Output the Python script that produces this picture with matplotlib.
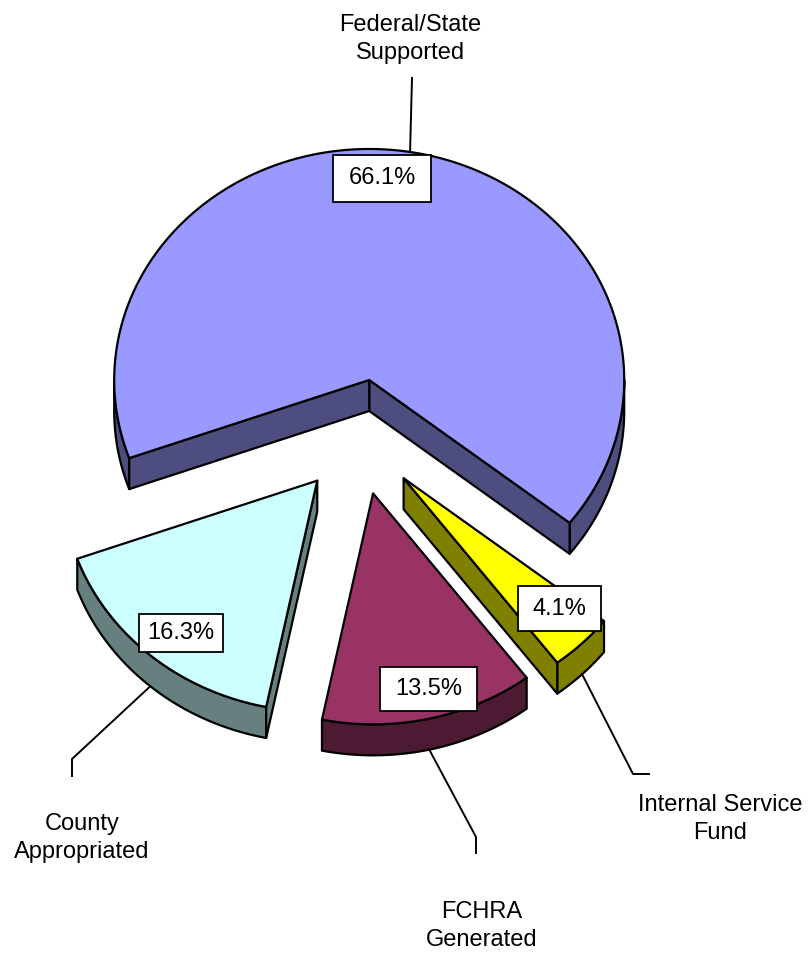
import numpy as np
import matplotlib.pyplot as plt
from matplotlib.patches import Polygon, Rectangle

plt.rcParams["font.family"] = ["Liberation Sans", "DejaVu Sans"]

# funding sources, counter-clockwise from the start angle
sources = ["Federal/State\nSupported", "County\nAppropriated", "FCHRA\nGenerated", "Internal Service\nFund"]
shares = [66.1, 16.3, 13.5, 4.1]
top_colors = ["#9999ff", "#ccffff", "#993366", "#ffff00"]

# pie geometry in pixel units (y grows downwards)
CX, CY = 359, 437
RX, RY = 255, 231
DEPTH = 31
EXPLODE = 0.25
START = -38.2

# label placement
name_xy = [(410, 39), (82, 838), (482, 926), (720, 819)]
leader_bends = [[(412, 78)], [(72, 759), (72, 776)], [(476, 837), (476, 853)], [(633, 774), (649, 774)]]
pct_xy = [(382, 178.5), (181, 633), (428.5, 689), (559.5, 608.5)]
pct_box = [(98, 47), (84, 38), (97, 44), (83, 45)]

EDGE = dict(ec="black", lw=1.6, joinstyle="round")


def rim(apex, theta):
    t = np.radians(theta)
    return apex[0] + RX * np.cos(t), apex[1] - RY * np.sin(t)


def shade(color, k=0.5):
    r, g, b = plt.matplotlib.colors.to_rgb(color)
    return (r * k, g * k, b * k)


def front_ranges(t1, t2):
    # parts of the outer rim that face the viewer (lower half of the ellipse)
    out = []
    for k in range(-1, 3):
        lo, hi = max(t1, 180 + 360 * k), min(t2, 360 + 360 * k)
        if lo < hi:
            out.append((lo, hi))
    return out


def draw_slice(ax, t1, t2, color):
    mid = np.radians((t1 + t2) / 2)
    apex = (CX + EXPLODE * RX * np.cos(mid), CY - EXPLODE * RY * np.sin(mid))
    side = shade(color)

    for lo, hi in front_ranges(t1, t2):
        th = np.linspace(lo, hi, 120)
        x, y = rim(apex, th)
        pts = np.column_stack([np.r_[x, x[::-1]], np.r_[y, y[::-1] + DEPTH]])
        ax.add_patch(Polygon(pts, fc=side, **EDGE))

    for theta, visible in ((t1, np.cos(np.radians(t1)) > 0), (t2, np.cos(np.radians(t2)) < 0)):
        if visible:
            x, y = rim(apex, theta)
            pts = [apex, (x, y), (x, y + DEPTH), (apex[0], apex[1] + DEPTH)]
            ax.add_patch(Polygon(pts, fc=side, **EDGE))

    th = np.linspace(t1, t2, 300)
    x, y = rim(apex, th)
    pts = np.column_stack([np.r_[apex[0], x], np.r_[apex[1], y]])
    ax.add_patch(Polygon(pts, fc=color, **EDGE))

    # leader anchor: rim at the mid angle, at the bottom edge for front slices
    lx, ly = rim(apex, np.degrees(mid))
    if np.sin(mid) < 0:
        ly += DEPTH
    return lx, ly


fig = plt.figure(figsize=(8.09, 9.55), dpi=100)
ax = fig.add_axes([0, 0, 1, 1])
ax.set_xlim(0, 809)
ax.set_ylim(955, 0)
ax.axis("off")

bounds = START + 360 * np.cumsum([0] + shares) / sum(shares)
mids = [(bounds[i] + bounds[i + 1]) / 2 for i in range(len(shares))]
order = sorted(range(len(shares)), key=lambda i: -np.sin(np.radians(mids[i])))

anchors = {}
for i in order:
    anchors[i] = draw_slice(ax, bounds[i], bounds[i + 1], top_colors[i])

for i, name in enumerate(sources):
    path = [anchors[i]] + leader_bends[i]
    xs, ys = zip(*path)
    ax.plot(xs, ys, color="black", lw=1.4, zorder=5)
    ax.text(*name_xy[i], name, ha="center", va="center", fontsize=17, linespacing=1.38, zorder=6)

    (x, y), (w, h) = pct_xy[i], pct_box[i]
    ax.add_patch(Rectangle((x - w / 2, y - h / 2), w, h, fc="white", ec="black", lw=1.3, zorder=6))
    ax.text(x, y, f"{shares[i]:.1f}%", ha="center", va="center", fontsize=17, zorder=7)

fig.savefig("out.png", dpi=100, facecolor="white")
